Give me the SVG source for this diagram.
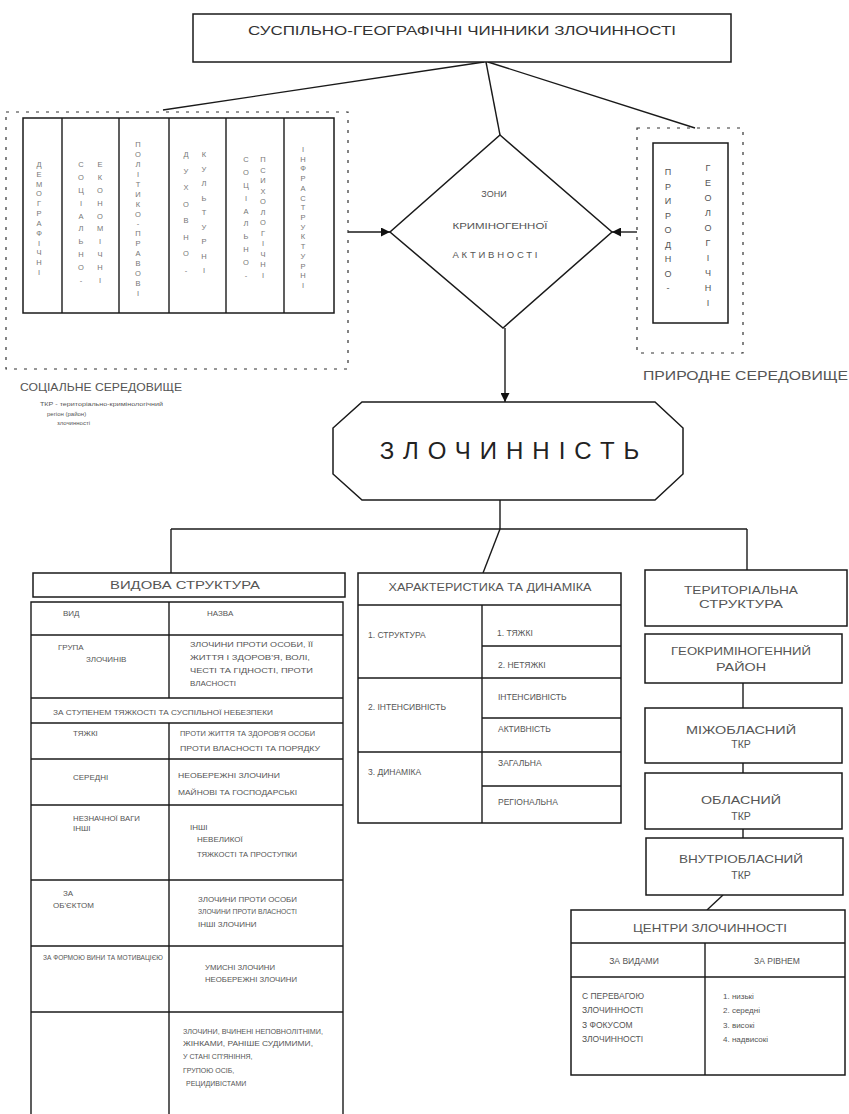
<svg xmlns="http://www.w3.org/2000/svg" width="849" height="1114" viewBox="0 0 849 1114">
<style>
.ln{stroke:#1a1a1a;stroke-width:1.4;fill:none}
.bx{fill:#fff;stroke:#1a1a1a;stroke-width:1.5}
.dash{fill:none;stroke:#333;stroke-width:1.2;stroke-dasharray:3 7}
.t{font-family:"Liberation Sans","DejaVu Sans",sans-serif;fill:#555;font-size:8px}
.m{text-anchor:middle}
.s8{font-size:8.5px}
.s7{font-size:7px}
.h{font-size:10.5px}
.v{writing-mode:vertical-rl;text-orientation:upright;font-size:7.5px;fill:#777}
.big{font-family:"Liberation Sans","DejaVu Sans",sans-serif;font-size:24px;fill:#222;letter-spacing:9px;text-anchor:middle}
</style>
<defs>
<marker id="ah" viewBox="0 0 10 10" refX="10" refY="5" markerWidth="10" markerHeight="9" markerUnits="userSpaceOnUse" orient="auto">
<path d="M0,0 L10,5 L0,10 z" fill="#111"/>
</marker>
</defs>
<rect width="849" height="1114" fill="#fff"/>

<g id="connectors">
<line class="ln" x1="484" y1="62" x2="163" y2="110"/>
<line class="ln" x1="486" y1="62" x2="500" y2="135"/>
<line class="ln" x1="488" y1="62" x2="695" y2="128"/>
<line class="ln" x1="348" y1="232" x2="390" y2="232" marker-end="url(#ah)"/>
<line class="ln" x1="637" y1="232" x2="612" y2="232" marker-end="url(#ah)"/>
<line class="ln" x1="505" y1="328" x2="505" y2="402" marker-end="url(#ah)"/>
<line class="ln" x1="500" y1="500" x2="500" y2="529"/>
<line class="ln" x1="171" y1="529" x2="747" y2="529"/>
<line class="ln" x1="171" y1="529" x2="171" y2="573"/>
<line class="ln" x1="500" y1="529" x2="483" y2="573"/>
<line class="ln" x1="747" y1="529" x2="747" y2="570"/>
<line class="ln" x1="743" y1="683" x2="743" y2="708"/>
<line class="ln" x1="743" y1="763" x2="743" y2="773"/>
<line class="ln" x1="743" y1="829" x2="743" y2="838"/>
<line class="ln" x1="723" y1="895" x2="707" y2="910"/>
</g>

<g id="title">
<rect class="bx" x="193" y="14" width="538" height="48"/>
<text class="t" x="248" y="35" style="font-size:13.5px;fill:#333" textLength="428" lengthAdjust="spacingAndGlyphs">СУСПІЛЬНО-ГЕОГРАФІЧНІ ЧИННИКИ ЗЛОЧИННОСТІ</text>
</g>

<g id="social">
<rect class="dash" x="6" y="112" width="342" height="257"/>
<rect class="bx" x="23" y="118" width="311" height="195"/>
<line class="ln" x1="62" y1="118" x2="62" y2="313"/>
<line class="ln" x1="119" y1="118" x2="119" y2="313"/>
<line class="ln" x1="169" y1="118" x2="169" y2="313"/>
<line class="ln" x1="226" y1="118" x2="226" y2="313"/>
<line class="ln" x1="284" y1="118" x2="284" y2="313"/>
<text class="t v" x="39" y="160" textLength="117">ДЕМОГРАФІЧНІ</text>
<text class="t v" x="81" y="160" textLength="125">СОЦІАЛЬНО-</text>
<text class="t v" x="100" y="160" textLength="125">ЕКОНОМІЧНІ</text>
<text class="t v" x="138" y="140" textLength="158">ПОЛІТИКО-ПРАВОВІ</text>
<text class="t v" x="186" y="150" textLength="125">ДУХОВНО-</text>
<text class="t v" x="204" y="150" textLength="125">КУЛЬТУРНІ</text>
<text class="t v" x="246" y="155" textLength="125">СОЦІАЛЬНО-</text>
<text class="t v" x="263" y="155" textLength="125">ПСИХОЛОГІЧНІ</text>
<text class="t v" x="303" y="145" textLength="145">ІНФРАСТРУКТУРНІ</text>
<text class="t" x="20" y="391" style="font-size:10.5px" textLength="162" lengthAdjust="spacingAndGlyphs">СОЦІАЛЬНЕ СЕРЕДОВИЩЕ</text>
<text class="t" x="40" y="406" textLength="123" lengthAdjust="spacingAndGlyphs" style="font-size:6px">ТКР - територіально-кримінологічний</text>
<text class="t" x="47" y="416" style="font-size:6px">регіон (район)</text>
<text class="t" x="57" y="425" style="font-size:6px">злочинності</text>
</g>

<g id="factor-zone">
<polygon class="bx" points="500,135 612,232 503,328 390,232"/>
<text class="t m" x="494" y="197" style="font-size:9px">ЗОНИ</text>
<text class="t m" x="500" y="229" style="font-size:9.5px" textLength="95" lengthAdjust="spacingAndGlyphs">КРИМІНОГЕННОЇ</text>
<text class="t m" x="495" y="258" style="font-size:9.5px" textLength="85">АКТИВНОСТІ</text>
</g>

<g id="nature">
<rect class="dash" x="637" y="128" width="106" height="225"/>
<rect class="bx" x="653" y="143" width="75" height="180"/>
<text class="t v" x="668" y="167" textLength="126" style="font-size:9px;fill:#555">ПРИРОДНО-</text>
<text class="t v" x="708" y="163" textLength="145" style="font-size:9px;fill:#555">ГЕОЛОГІЧНІ</text>
<text class="t" x="643" y="380" style="font-size:12px" textLength="205" lengthAdjust="spacingAndGlyphs">ПРИРОДНЕ СЕРЕДОВИЩЕ</text>
</g>

<g id="crime">
<polygon class="bx" points="362,402 655,402 683,428 683,474 655,500 362,500 333,474 333,428"/>
<text class="big" x="514" y="459">ЗЛОЧИННІСТЬ</text>
</g>

<g id="species-structure">
<rect class="bx" x="33" y="573" width="312" height="24"/>
<text class="t m h" x="185" y="589" textLength="150" lengthAdjust="spacingAndGlyphs">ВИДОВА СТРУКТУРА</text>
<path class="ln" d="M31,1114 V602 H343 V1114"/>
<line class="ln" x1="31" y1="635" x2="343" y2="635"/>
<line class="ln" x1="31" y1="698" x2="343" y2="698"/>
<line class="ln" x1="31" y1="723" x2="343" y2="723"/>
<line class="ln" x1="31" y1="759" x2="343" y2="759"/>
<line class="ln" x1="31" y1="805" x2="343" y2="805"/>
<line class="ln" x1="31" y1="880" x2="343" y2="880"/>
<line class="ln" x1="31" y1="946" x2="343" y2="946"/>
<line class="ln" x1="31" y1="1012" x2="343" y2="1012"/>
<line class="ln" x1="169" y1="602" x2="169" y2="698"/>
<line class="ln" x1="169" y1="723" x2="169" y2="1114"/>
<text class="t" x="63" y="616">ВИД</text>
<text class="t" x="207" y="616">НАЗВА</text>
<text class="t" x="58" y="650">ГРУПА</text>
<text class="t" x="86" y="662">ЗЛОЧИНІВ</text>
<text class="t" x="190" y="647" textLength="123" lengthAdjust="spacingAndGlyphs">ЗЛОЧИНИ ПРОТИ ОСОБИ, ЇЇ</text>
<text class="t" x="190" y="660" textLength="120" lengthAdjust="spacingAndGlyphs">ЖИТТЯ І ЗДОРОВ'Я, ВОЛІ,</text>
<text class="t" x="190" y="673" textLength="123" lengthAdjust="spacingAndGlyphs">ЧЕСТІ ТА ГІДНОСТІ, ПРОТИ</text>
<text class="t" x="190" y="686">ВЛАСНОСТІ</text>
<text class="t" x="53" y="715" textLength="220" lengthAdjust="spacingAndGlyphs">ЗА СТУПЕНЕМ ТЯЖКОСТІ ТА СУСПІЛЬНОЇ НЕБЕЗПЕКИ</text>
<text class="t" x="73" y="736">ТЯЖКІ</text>
<text class="t" x="180" y="736" textLength="135" lengthAdjust="spacingAndGlyphs">ПРОТИ ЖИТТЯ ТА ЗДОРОВ'Я ОСОБИ</text>
<text class="t" x="180" y="751" textLength="140" lengthAdjust="spacingAndGlyphs">ПРОТИ ВЛАСНОСТІ ТА ПОРЯДКУ</text>
<text class="t" x="73" y="780">СЕРЕДНІ</text>
<text class="t" x="178" y="778" textLength="102" lengthAdjust="spacingAndGlyphs">НЕОБЕРЕЖНІ ЗЛОЧИНИ</text>
<text class="t" x="178" y="795" textLength="119" lengthAdjust="spacingAndGlyphs">МАЙНОВІ ТА ГОСПОДАРСЬКІ</text>
<text class="t" x="73" y="821" textLength="67" lengthAdjust="spacingAndGlyphs">НЕЗНАЧНОЇ ВАГИ</text>
<text class="t" x="73" y="831">ІНШІ</text>
<text class="t" x="190" y="830">ІНШІ</text>
<text class="t" x="197" y="842">НЕВЕЛИКОЇ</text>
<text class="t" x="197" y="857" textLength="100" lengthAdjust="spacingAndGlyphs">ТЯЖКОСТІ ТА ПРОСТУПКИ</text>
<text class="t" x="63" y="896">ЗА</text>
<text class="t" x="53" y="908">ОБ'ЄКТОМ</text>
<text class="t" x="198" y="902" textLength="99" lengthAdjust="spacingAndGlyphs">ЗЛОЧИНИ ПРОТИ ОСОБИ</text>
<text class="t" x="198" y="914" textLength="99" lengthAdjust="spacingAndGlyphs">ЗЛОЧИНИ ПРОТИ ВЛАСНОСТІ</text>
<text class="t" x="198" y="927">ІНШІ ЗЛОЧИНИ</text>
<text class="t" x="43" y="960" textLength="120" lengthAdjust="spacingAndGlyphs">ЗА ФОРМОЮ ВИНИ ТА МОТИВАЦІЄЮ</text>
<text class="t" x="205" y="970" textLength="70" lengthAdjust="spacingAndGlyphs">УМИСНІ ЗЛОЧИНИ</text>
<text class="t" x="205" y="982" textLength="92" lengthAdjust="spacingAndGlyphs">НЕОБЕРЕЖНІ ЗЛОЧИНИ</text>
<text class="t s7" x="183" y="1034" textLength="140" lengthAdjust="spacingAndGlyphs">ЗЛОЧИНИ, ВЧИНЕНІ НЕПОВНОЛІТНІМИ,</text>
<text class="t s7" x="183" y="1046" textLength="130" lengthAdjust="spacingAndGlyphs">ЖІНКАМИ, РАНІШЕ СУДИМИМИ,</text>
<text class="t s7" x="183" y="1059">У СТАНІ СП'ЯНІННЯ,</text>
<text class="t s7" x="183" y="1073">ГРУПОЮ ОСІБ,</text>
<text class="t s7" x="186" y="1086">РЕЦИДИВІСТАМИ</text>
</g>

<g id="characteristics">
<rect class="bx" x="358" y="573" width="263" height="250"/>
<line class="ln" x1="358" y1="605" x2="621" y2="605"/>
<line class="ln" x1="482" y1="605" x2="482" y2="823"/>
<line class="ln" x1="358" y1="678" x2="621" y2="678"/>
<line class="ln" x1="358" y1="752" x2="621" y2="752"/>
<line class="ln" x1="482" y1="646" x2="621" y2="646"/>
<line class="ln" x1="482" y1="718" x2="621" y2="718"/>
<line class="ln" x1="482" y1="786" x2="621" y2="786"/>
<text class="t m h" x="490" y="591" textLength="203" lengthAdjust="spacingAndGlyphs">ХАРАКТЕРИСТИКА ТА ДИНАМІКА</text>
<text class="t s8" x="368" y="638">1. СТРУКТУРА</text>
<text class="t s8" x="368" y="710">2. ІНТЕНСИВНІСТЬ</text>
<text class="t s8" x="368" y="775">3. ДИНАМІКА</text>
<text class="t s8" x="497" y="636">1. ТЯЖКІ</text>
<text class="t s8" x="498" y="668">2. НЕТЯЖКІ</text>
<text class="t s8" x="498" y="700">ІНТЕНСИВНІСТЬ</text>
<text class="t s8" x="498" y="732">АКТИВНІСТЬ</text>
<text class="t s8" x="498" y="766">ЗАГАЛЬНА</text>
<text class="t s8" x="498" y="805">РЕГІОНАЛЬНА</text>
</g>

<g id="territorial">
<rect class="bx" x="645" y="570" width="202" height="56"/>
<text class="t m h" x="741" y="594" textLength="114" lengthAdjust="spacingAndGlyphs">ТЕРИТОРІАЛЬНА</text>
<text class="t m h" x="741" y="608" textLength="84" lengthAdjust="spacingAndGlyphs">СТРУКТУРА</text>
</g>
<g id="georegion">
<rect class="bx" x="645" y="634" width="197" height="49"/>
<text class="t m h" x="741" y="655" textLength="140" lengthAdjust="spacingAndGlyphs">ГЕОКРИМІНОГЕННИЙ</text>
<text class="t m h" x="741" y="671" textLength="50" lengthAdjust="spacingAndGlyphs">РАЙОН</text>
</g>
<g id="interregional">
<rect class="bx" x="645" y="708" width="197" height="55"/>
<text class="t m h" x="741" y="734" textLength="110" lengthAdjust="spacingAndGlyphs">МІЖОБЛАСНИЙ</text>
<text class="t m h" x="741" y="748">ТКР</text>
</g>
<g id="regional">
<rect class="bx" x="645" y="773" width="197" height="56"/>
<text class="t m h" x="741" y="804" textLength="80" lengthAdjust="spacingAndGlyphs">ОБЛАСНИЙ</text>
<text class="t m h" x="741" y="820">ТКР</text>
</g>
<g id="intraregional">
<rect class="bx" x="646" y="838" width="197" height="57"/>
<text class="t m h" x="741" y="863" textLength="124" lengthAdjust="spacingAndGlyphs">ВНУТРІОБЛАСНИЙ</text>
<text class="t m h" x="741" y="879">ТКР</text>
</g>

<g id="centers">
<rect class="bx" x="571" y="910" width="274" height="165"/>
<line class="ln" x1="571" y1="943" x2="845" y2="943"/>
<line class="ln" x1="571" y1="977" x2="845" y2="977"/>
<line class="ln" x1="705" y1="943" x2="705" y2="1075"/>
<text class="t m h" x="710" y="932" textLength="154" lengthAdjust="spacingAndGlyphs">ЦЕНТРИ ЗЛОЧИННОСТІ</text>
<text class="t m s8" x="634" y="964">ЗА ВИДАМИ</text>
<text class="t m s8" x="777" y="964">ЗА РІВНЕМ</text>
<text class="t s8" x="582" y="999">С ПЕРЕВАГОЮ</text>
<text class="t s8" x="582" y="1013">ЗЛОЧИННОСТІ</text>
<text class="t s8" x="582" y="1028">З ФОКУСОМ</text>
<text class="t s8" x="582" y="1042">ЗЛОЧИННОСТІ</text>
<text class="t" x="723" y="999">1. низькі</text>
<text class="t" x="723" y="1013">2. середні</text>
<text class="t" x="723" y="1028">3. високі</text>
<text class="t" x="723" y="1042">4. надвисокі</text>
</g>
</svg>
